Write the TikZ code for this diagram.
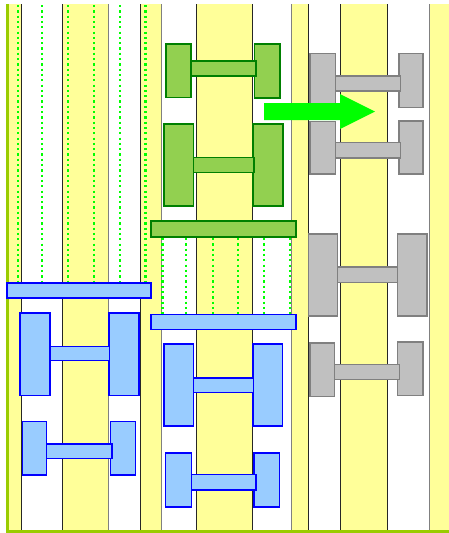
\documentclass[tikz,border=0pt]{standalone}
\definecolor{stripeY}{HTML}{FFFF99}
\definecolor{edgeG}{HTML}{99CC00}
\definecolor{lblue}{HTML}{99CCFF}
\definecolor{dblue}{HTML}{0000FF}
\definecolor{lgreen}{HTML}{92D050}
\definecolor{dgreen}{HTML}{008000}
\definecolor{lgray}{HTML}{C0C0C0}
\definecolor{dgray}{HTML}{808080}
\definecolor{arrowG}{HTML}{00FF00}
\begin{document}
\begin{tikzpicture}[x=1pt,y=-1pt,
  yband/.style={fill=stripeY},
  sepline/.style={draw=black!85, line width=0.9pt},
  sepgray/.style={draw=dgray, line width=0.9pt},
  dotline/.style={draw=arrowG, line width=2.2pt, dash pattern=on 2.2pt off 3.1pt},
  bluebox/.style={draw=dblue, fill=lblue, line width=1.8pt},
  greenbox/.style={draw=dgreen, fill=lgreen, line width=1.8pt},
  graybox/.style={draw=dgray, fill=lgray, line width=1.8pt}]
\useasboundingbox (0,0) rectangle (449,533);
\fill[white] (0,0) rectangle (449,533);
% yellow stripes
\foreach \a/\b in {9/21,62/108,140/161,196/252,291/308,340/387,429/449}
  \fill[yband] (\a,4) rectangle (\b,530);
% separator lines
\foreach \x in {21,62,140,196,252,308,340,387}
  \draw[sepline] (\x,4) -- (\x,530);
\foreach \x in {108,161,291,429}
  \draw[sepgray] (\x,4) -- (\x,530);
% dotted lines, left group
\foreach \x in {18,42,68,94,120,145.5}
  \draw[dotline] (\x,5) -- (\x,283);
% dotted lines, middle group
\foreach \x in {162.5,186,213,238,264,290}
  \draw[dotline] (\x,238) -- (\x,314);
% border
\draw[edgeG, line width=3pt] (7.5,4) -- (7.5,531.5) -- (449,531.5);
% left group (blue)
\draw[bluebox] (7,283) rectangle (151,298);
\draw[bluebox] (20,313) rectangle (50,395.5);
\draw[bluebox] (109,313) rectangle (139,395.5);
\draw[bluebox] (50,346.5) rectangle (109.5,360.5);
\draw[bluebox] (22.5,421.5) rectangle (46.5,475);
\draw[bluebox] (110.5,421.5) rectangle (135.5,475);
\draw[bluebox] (46.5,444) rectangle (112,458.5);
% middle group (green)
\draw[greenbox] (166,44) rectangle (191,97.5);
\draw[greenbox] (254.5,44) rectangle (280,98);
\draw[greenbox] (191,61) rectangle (256,76);
\draw[greenbox] (164,124) rectangle (193.5,206);
\draw[greenbox] (253,124) rectangle (283,206);
\draw[greenbox] (193.5,157.5) rectangle (254,172.5);
\draw[greenbox] (151,221) rectangle (296,237);
% middle group (blue)
\draw[bluebox] (151,314.5) rectangle (296,329.5);
\draw[bluebox] (164,344) rectangle (193.5,426);
\draw[bluebox] (253,344) rectangle (282.5,426);
\draw[bluebox] (193.5,378) rectangle (253.5,392.5);
\draw[bluebox] (165.5,453) rectangle (191.5,507);
\draw[bluebox] (254,453) rectangle (279.5,507);
\draw[bluebox] (191.5,474.5) rectangle (256,490);
% right group (gray)
\draw[graybox] (310,53.5) rectangle (335.5,107.5);
\draw[graybox] (399,53.5) rectangle (423,107.5);
\draw[graybox] (335.5,76) rectangle (400.5,91);
\draw[graybox] (310,121.5) rectangle (335.5,174);
\draw[graybox] (399,121) rectangle (423,174);
\draw[graybox] (335.5,142.5) rectangle (400.5,158);
\draw[graybox] (308.5,234) rectangle (337.5,316);
\draw[graybox] (397.5,234) rectangle (427,316);
\draw[graybox] (337.5,267) rectangle (397.5,282.5);
\draw[graybox] (310,343) rectangle (334.5,396.5);
\draw[graybox] (397.5,342) rectangle (423,395.5);
\draw[graybox] (334.5,364.5) rectangle (399.5,379.5);
% arrow
\fill[arrowG] (264,103) -- (340,103) -- (340,94) -- (375,111.5) -- (340,129)
  -- (340,120) -- (264,120) -- cycle;
\end{tikzpicture}
\end{document}
